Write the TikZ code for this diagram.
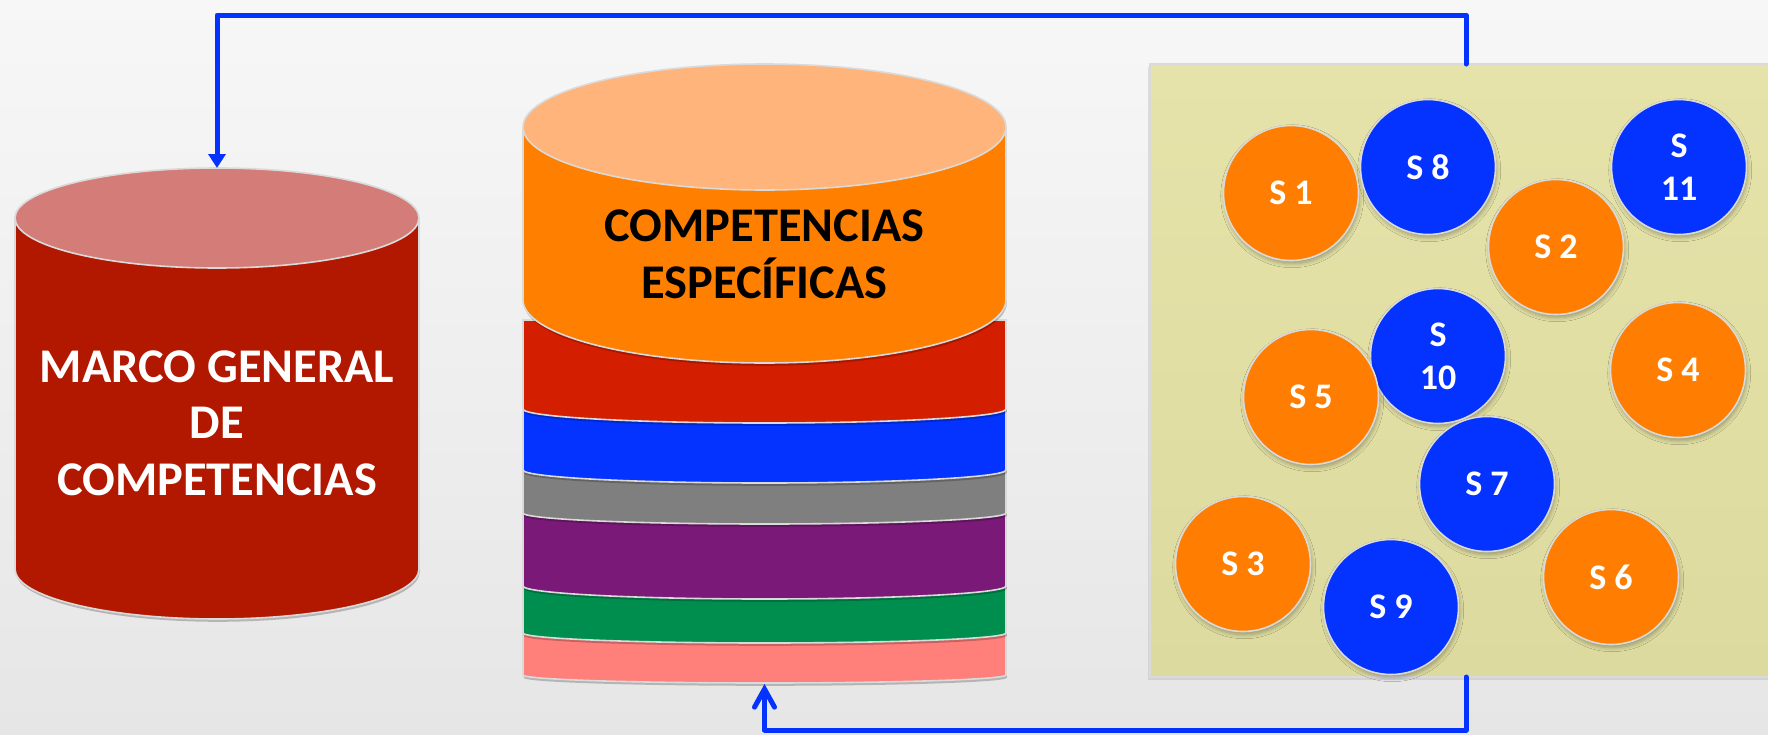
\documentclass[tikz,border=0pt]{standalone}
\usepackage{fontspec}
\setmainfont{Carlito}
\usetikzlibrary{shadows,shadows.blur,arrows.meta}
\definecolor{bgtop}{HTML}{F7F7F7}
\definecolor{bgbot}{HTML}{E6E6E6}
\definecolor{paneltop}{HTML}{E5E3A9}
\definecolor{panelbot}{HTML}{DCDA9E}
\definecolor{sblue}{HTML}{0432FF}
\definecolor{sorange}{HTML}{FF7D00}
\definecolor{lside}{HTML}{B21800}
\definecolor{ltop}{HTML}{D47C78}
\definecolor{oside}{HTML}{FF7F00}
\definecolor{otop}{HTML}{FFB47C}
\definecolor{lred}{HTML}{D41E00}
\definecolor{lblue}{HTML}{0432FF}
\definecolor{lgray}{HTML}{7F7F7F}
\definecolor{lpurple}{HTML}{7A1977}
\definecolor{lgreen}{HTML}{008E4F}
\definecolor{lpink}{HTML}{FF7F7B}
\definecolor{edgec}{HTML}{DADADA}
\definecolor{conncol}{HTML}{0432FF}
\begin{document}
\begin{tikzpicture}[x=0.5pt,y=-0.5pt,
  edgeline/.style={draw=edgec,line width=0.8pt},
  shad/.style={drop shadow={shadow xshift=0.4pt,shadow yshift=-1.4pt,opacity=0.22,fill=black}},
  cshad/.style={blur shadow={shadow xshift=0.6pt,shadow yshift=-1.6pt,shadow blur steps=6,shadow blur radius=2pt,shadow opacity=30}},
  scirc/.style={circle,minimum size=67.5pt,inner sep=0pt,edgeline,cshad,text=white,
    font=\fontsize{18pt}{21.5pt}\selectfont\bfseries,align=center},
  bigtxt/.style={align=center,font=\fontsize{24.2pt}{28.3pt}\selectfont\bfseries,inner sep=0pt},
  conn/.style={draw=conncol,line width=2.5pt,line join=round,line cap=round},
  box/.style={inner sep=0pt,outer sep=0pt}
]
\useasboundingbox (0,0) rectangle (1768,734);
\shade[top color=bgtop,bottom color=bgbot] (0,0) rectangle (1768,734);

% right panel
\node[box,minimum width=316pt,minimum height=306.5pt,top color=paneltop,bottom color=panelbot,
  draw=edgec,line width=0.8pt,drop shadow={shadow xshift=-1pt,shadow yshift=-1.5pt,opacity=0.2}] (panel) at (1466,370.5) {};

% left cylinder
\path[fill=lside,edgeline,shad] (15,218) -- (15,569) arc[start angle=180,end angle=360,x radius=101pt,y radius=25pt] -- (419,218) -- cycle;
\path[fill=ltop,edgeline] (217,218) ellipse[x radius=101pt,y radius=25pt];
\node[box,minimum width=202pt,minimum height=225.5pt] (marco) at (217,393.5) {};
\node[bigtxt,text=white] (marcotxt) at (217,423) {MARCO GENERAL\\DE\\COMPETENCIAS};

% middle stack (bottom to top)
\path[fill=lpink,edgeline,shad] (523,628) -- (523,675) arc[start angle=180,end angle=360,x radius=120.75pt,y radius=4pt] -- (1006,628) -- cycle;
\path[fill=lgreen,edgeline,shad] (523,580) -- (523,633) arc[start angle=180,end angle=360,x radius=120.75pt,y radius=5pt] -- (1006,580) -- cycle;
\path[fill=lpurple,edgeline,shad] (523,508) -- (523,586) arc[start angle=180,end angle=360,x radius=120.75pt,y radius=6.5pt] -- (1006,508) -- cycle;
\path[fill=lgray,edgeline,shad] (523,465) -- (523,513) arc[start angle=180,end angle=360,x radius=120.75pt,y radius=5.5pt] -- (1006,465) -- cycle;
\path[fill=lblue,edgeline,shad] (523,400) -- (523,470) arc[start angle=180,end angle=360,x radius=120.75pt,y radius=6.5pt] -- (1006,400) -- cycle;
\path[fill=lred,edgeline,shad] (523,320) -- (523,409) arc[start angle=180,end angle=360,x radius=120.75pt,y radius=7pt] -- (1006,320) -- cycle;
\path[fill=oside,edgeline,shad] (523,127) -- (523,300) arc[start angle=180,end angle=360,x radius=120.75pt,y radius=31.5pt] -- (1006,127) -- cycle;
\path[fill=otop,edgeline] (764.5,127) ellipse[x radius=120.75pt,y radius=31.5pt];
\node[box,minimum width=241.5pt,minimum height=310pt] (esp) at (764.5,374) {};
\node[bigtxt,text=black] (esptxt) at (764.5,254) {COMPETENCIAS\\ESPECÍFICAS};

% circles
\node[scirc,fill=sorange] (s1) at (1291,193) {S 1};
\node[scirc,fill=sblue] (s8) at (1428,167) {S 8};
\node[scirc,fill=sorange] (s2) at (1556,247) {S 2};
\node[scirc,fill=sblue] (s11) at (1679,167) {S\\11};
\node[scirc,fill=sblue] (s10) at (1438,356) {S\\10};
\node[scirc,fill=sorange] (s4) at (1678,370) {S 4};
\node[scirc,fill=sorange] (s5) at (1311,397) {S 5};
\node[scirc,fill=sblue] (s7) at (1487,484) {S 7};
\node[scirc,fill=sorange] (s3) at (1243,564) {S 3};
\node[scirc,fill=sblue] (s9) at (1391,607) {S 9};
\node[scirc,fill=sorange] (s6) at (1611,577) {S 6};

% connectors
\coordinate (topy) at (0,15);
\coordinate (boty) at (0,730);
\draw[conn,-{Triangle[length=7pt,width=8.5pt]}] (panel.north) -- (panel.north |- topy) -| (marco.north);
\draw[conn,-{Straight Barb[length=9pt,width=10pt,line cap=round]}] (panel.south) -- (panel.south |- boty) -| (esp.south);
\end{tikzpicture}
\end{document}
